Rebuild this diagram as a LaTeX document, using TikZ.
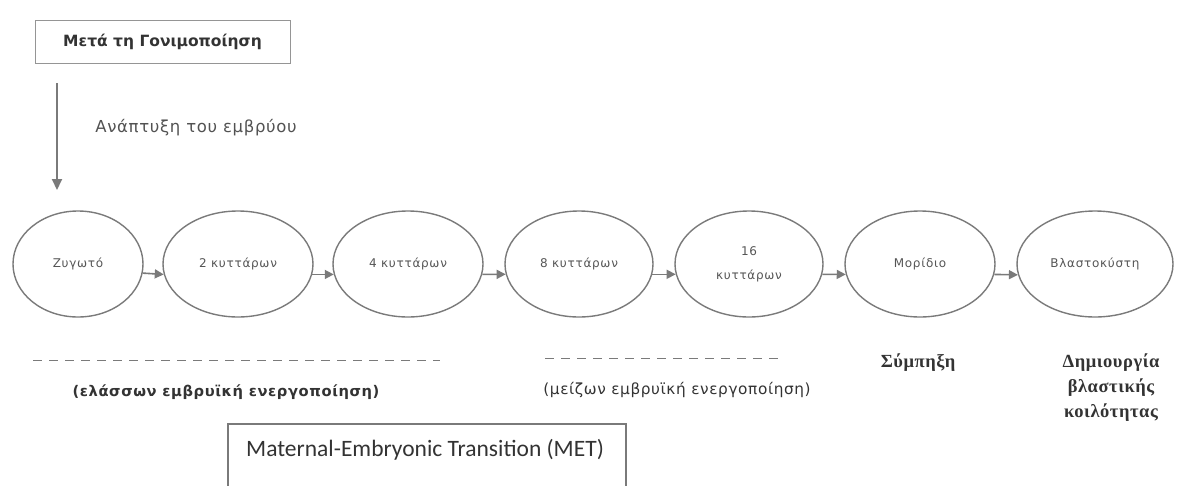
\documentclass[tikz,border=0pt]{standalone}
\usepackage{fontspec}
\setmainfont{DejaVu Sans}
\newfontfamily\cellfont[LetterSpace=6]{DejaVu Sans}
\newfontfamily\capfont[LetterSpace=4]{DejaVu Sans}
\newfontfamily\serifb[LetterSpace=3]{Liberation Serif}
\newfontfamily\metfont{Carlito}
\usetikzlibrary{arrows.meta,shapes.geometric}
\definecolor{txt}{HTML}{333333}
\definecolor{edge}{HTML}{7A7A7A}
\definecolor{celltxt}{HTML}{555555}
\begin{document}
\begin{tikzpicture}[x=1pt,y=-1pt,
  stage/.style={ellipse,draw=edge,line width=1.4pt,minimum height=106pt,inner sep=0pt,
    text=celltxt,font=\cellfont\fontsize{12}{14}\selectfont,align=center},
  conn/.style={draw=edge,line width=1.6pt,-{Triangle[length=9pt,width=9pt]}},
  tbox/.style={draw=edge!80,line width=1pt,inner sep=0pt},
  dashln/.style={draw=edge,line width=1pt,dash pattern=on 9pt off 7pt},
  lbl/.style={text=txt,inner sep=0pt,align=center}]
\useasboundingbox (0,0) rectangle (1178,485);
\clip (0,0) rectangle (1178,485);
% top box
\node[tbox,minimum width=255pt,minimum height=43pt,lbl,font=\bfseries\fontsize{15.5}{18}\selectfont] (top) at (162.5,41.5) {Μετά τη Γονιμοποίηση};
\coordinate (va) at (57,83);
\coordinate (vb) at (57,190);
\draw[conn,line width=2pt,-{Triangle[length=11pt,width=10pt]}] (va) -- (vb);
\node[lbl,text=txt!85,font=\capfont\fontsize{16.5}{19}\selectfont] (dev) at (196,128) {Ανάπτυξη του εμβρύου};
% stages
\node[stage,minimum width=130pt] (e1) at (78,264) {Ζυγωτό};
\node[stage,minimum width=150pt] (e2) at (238,264) {2 κυττάρων};
\node[stage,minimum width=150pt] (e3) at (408,264) {4 κυττάρων};
\node[stage,minimum width=148pt] (e4) at (579,264) {8 κυττάρων};
\node[stage,minimum width=148pt] (e5) at (749,264) {16\\[10pt]κυττάρων};
\node[stage,minimum width=150pt] (e6) at (920,264) {Μορίδιο};
\node[stage,minimum width=156pt] (e7) at (1095,264) {Βλαστοκύστη};
\draw[conn] (e1.-8) -- (e2.188);
\draw[conn] (e2.-8) -- (e3.188);
\draw[conn] (e3.-8) -- (e4.188);
\draw[conn] (e4.-8) -- (e5.188);
\draw[conn] (e5.-8) -- (e6.188);
\draw[conn] (e6.-8) -- (e7.188);
% dashed lines
\coordinate (d1a) at (33,360);
\coordinate (d1b) at (440,360);
\coordinate (d2a) at (545,358);
\coordinate (d2b) at (780,358);
\draw[dashln] (d1a) -- (d1b);
\draw[dashln] (d2a) -- (d2b);
\node[lbl,font=\capfont\bfseries\fontsize{14.7}{17}\selectfont] (minor) at (226,392) {(ελάσσων εμβρυϊκή ενεργοποίηση)};
\node[lbl,font=\capfont\fontsize{15.3}{18}\selectfont] (major) at (677,390) {(μείζων εμβρυϊκή ενεργοποίηση)};
\node[lbl,font=\serifb\bfseries\fontsize{18.5}{25}\selectfont] (comp) at (918,363) {Σύμπηξη};
\node[lbl,font=\serifb\bfseries\fontsize{18.5}{25}\selectfont] (cav) at (1111,388) {Δημιουργία\\βλαστικής\\κοιλότητας};
% MET box
\node[tbox,draw=edge,line width=1.5pt,minimum width=398pt,minimum height=100pt,anchor=north west] (met) at (227,423) {};
\node[lbl,anchor=west,font=\metfont\fontsize{23.5}{28}\selectfont] (mettxt) at ([xshift=19pt,yshift=-27pt]met.north west) {Maternal-Embryonic Transition (MET)};
\end{tikzpicture}
\end{document}
